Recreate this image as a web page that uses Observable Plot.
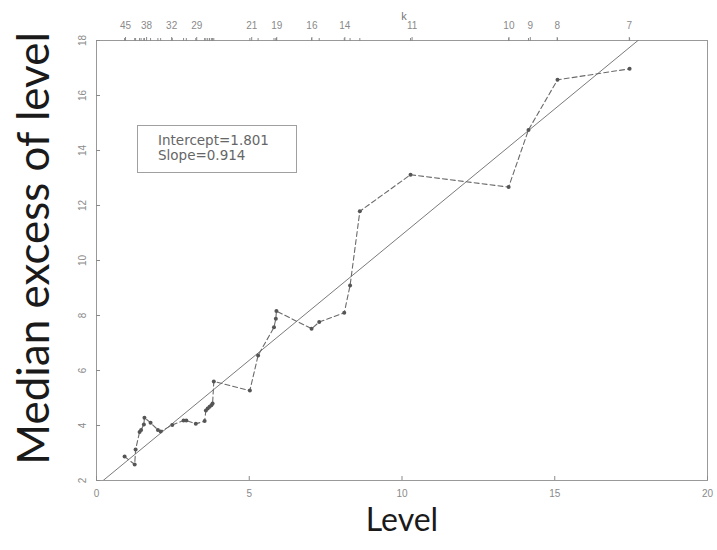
<!DOCTYPE html>
<html>
<head>
<meta charset="utf-8">
<script src="https://cdn.jsdelivr.net/npm/d3@7"></script>
<script src="https://cdn.jsdelivr.net/npm/@observablehq/plot@0.6"></script>
<style>
  body { margin: 0; background: #fff; }
  #wrap { position: relative; width: 717px; height: 550px; }
  #legend {
    position: absolute; left: 137px; top: 125px; width: 160px; height: 48px;
    box-sizing: border-box; border: 1px solid #a0a0a0;
    font-family: "DejaVu Sans", sans-serif; font-size: 13.5px; line-height: 15px;
    color: #666; padding: 7px 0 0 20px;
  }
</style>
</head>
<body>
<div id="wrap"></div>
<script>
// Threshold level (x) and median excess over it (y)
const levels = [0.92, 1.25, 1.28, 1.41, 1.46, 1.55, 1.57, 1.77, 2.01, 2.10, 2.48, 2.85, 2.94, 3.25, 3.54, 3.58, 3.64, 3.70, 3.76, 3.80, 3.84, 5.02, 5.29, 5.81, 5.87, 5.89, 7.04, 7.29, 8.11, 8.30, 8.62, 10.28, 13.49, 14.14, 15.09, 17.45];
const excess = [2.87, 2.58, 3.13, 3.76, 3.84, 4.04, 4.28, 4.10, 3.84, 3.78, 4.02, 4.18, 4.18, 4.06, 4.16, 4.55, 4.62, 4.68, 4.74, 4.80, 5.60, 5.27, 6.55, 7.57, 7.88, 8.16, 7.52, 7.76, 8.10, 9.09, 11.79, 13.12, 12.67, 14.75, 16.57, 16.97];

// Fitted line
const intercept = 1.801;
const slope = 0.914;
const fitX = [0, 20];

// Top axis: number of exceedances k
const kLabels = [45, 38, 32, 29, 21, 19, 16, 14, 11, 10, 9, 8, 7];
const kPos = [0.95, 1.64, 2.46, 3.28, 5.08, 5.90, 7.05, 8.13, 10.33, 13.50, 14.20, 15.08, 17.44];

// Tick values
const xTicks = [0, 5, 10, 15, 20];
const yTicks = [2, 4, 6, 8, 10, 12, 14, 16, 18];

const pts = levels.map((x, i) => ({x, y: excess[i]}));
const fit = fitX.map(x => ({x, y: intercept + slope * x}));

const tickColor = "#8a8a8a";
const chart = Plot.plot({
  width: 717,
  height: 550,
  marginLeft: 96,
  marginRight: 10,
  marginTop: 40,
  marginBottom: 70,
  style: {fontFamily: "'Liberation Sans', Arial, sans-serif", fontSize: "10px", background: "#fff"},
  x: {domain: [0, 20]},
  y: {domain: [2, 18]},
  marks: [
    Plot.frame({stroke: "#999"}),
    // bottom axis
    Plot.axisX({anchor: "bottom", ticks: xTicks, tickSize: -4, tickPadding: 13, label: null, stroke: tickColor, fill: tickColor, fontSize: 10}),
    // left axis ticks (inward) and rotated labels
    Plot.axisY({anchor: "left", ticks: yTicks, tickSize: -4, tickFormat: () => "", label: null, stroke: tickColor}),
    Plot.text(yTicks, {y: d => d, text: d => String(d), frameAnchor: "left", textAnchor: "middle", dx: -14, rotate: -90, fill: tickColor, fontSize: 10}),
    // top axis: k
    Plot.axisX({anchor: "top", ticks: levels, tickSize: 3, tickFormat: () => "", label: null, stroke: tickColor}),
    Plot.axisX({anchor: "top", ticks: kPos, tickSize: 4, tickPadding: 8, tickFormat: (d, i) => String(kLabels[i]), label: null, stroke: tickColor, fill: tickColor, fontSize: 10}),
    Plot.text(["k"], {frameAnchor: "top", dx: 2, dy: -28, text: d => d, fill: "#777", fontSize: 11}),
    // fitted line
    Plot.line(fit, {x: "x", y: "y", stroke: "#7a7a7a", strokeWidth: 1, clip: true}),
    // median excess path
    Plot.line(pts, {x: "x", y: "y", stroke: "#6a6a6a", strokeWidth: 1.1, strokeDasharray: "5,3"}),
    Plot.dot(pts, {x: "x", y: "y", r: 2, fill: "#555", stroke: "none"}),
    // big axis titles
    Plot.text(["Median excess of level"], {frameAnchor: "left", textAnchor: "middle", dx: -62, dy: -12, text: d => d, rotate: -90, fontSize: 44, fill: "#1a1a1a", fontFamily: "Lato"}),
    Plot.text(["Level"], {frameAnchor: "bottom", dy: 50, text: d => d, fontSize: 32, fill: "#1a1a1a", fontFamily: "Lato"})
  ]
});
const wrap = document.getElementById("wrap");
wrap.appendChild(chart);
const legend = document.createElement("div");
legend.id = "legend";
legend.innerHTML = `Intercept=${intercept.toFixed(3)}<br>Slope=${slope.toFixed(3)}`;
wrap.appendChild(legend);
</script>
</body>
</html>
